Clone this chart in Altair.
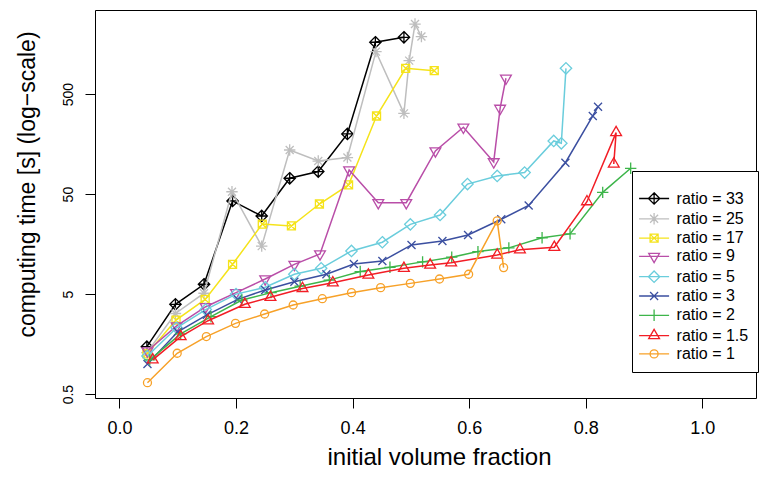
import altair as alt
import pandas as pd

# ---------------- data ----------------
labels = ["ratio = 33", "ratio = 25", "ratio = 17", "ratio = 9", "ratio = 5",
          "ratio = 3", "ratio = 2", "ratio = 1.5", "ratio = 1"]
colors = ["#000000", "#BEBEBE", "#F5E31A", "#B94EA8", "#6ACDDC",
          "#3B4FA0", "#3DB54A", "#F21D25", "#F7A128"]

x33 = [0.047, 0.096, 0.145, 0.194, 0.244, 0.292, 0.341, 0.391, 0.439, 0.488]
y33 = [1.49, 3.95, 6.27, 42.7, 30.2, 72, 84, 200, 1650, 1850]

x25 = [0.047, 0.096, 0.145, 0.193, 0.244, 0.292, 0.341, 0.391, 0.440, 0.488, 0.497, 0.507, 0.518]
y25 = [1.3, 3.2, 5.1, 52.8, 15.1, 138, 107, 116, 1330, 321, 1080, 2510, 1880]

x17 = [0.047, 0.097, 0.147, 0.194, 0.245, 0.295, 0.343, 0.393, 0.441, 0.491, 0.540]
y17 = [1.26, 2.75, 4.43, 9.93, 25.1, 24, 39.8, 61.7, 302, 905, 857]

x9 = [0.048, 0.098, 0.148, 0.200, 0.250, 0.300, 0.344, 0.394, 0.444, 0.492, 0.542, 0.590, 0.642, 0.653, 0.663]
y9 = [1.35, 2.4, 3.74, 5.17, 7.08, 9.9, 12.6, 87, 41, 41, 135, 233, 105, 360, 720]

x5 = [0.048, 0.098, 0.148, 0.200, 0.250, 0.300, 0.346, 0.398, 0.451, 0.499, 0.550, 0.597, 0.648, 0.695, 0.745, 0.758, 0.766]
y5 = [1.2, 2.3, 3.5, 5.0, 5.85, 7.9, 9.05, 13.5, 16.5, 24.9, 30.9, 63, 76, 82, 170, 161, 905]

x3 = [0.048, 0.100, 0.150, 0.203, 0.250, 0.300, 0.355, 0.402, 0.451, 0.501, 0.554, 0.598, 0.655, 0.702, 0.765, 0.812, 0.821]
y3 = [1.0, 2.1, 3.1, 4.43, 5.5, 6.65, 7.9, 10, 10.7, 15.5, 17, 19.5, 28, 38.5, 103, 302, 374]

x2 = [0.052, 0.105, 0.157, 0.210, 0.260, 0.310, 0.360, 0.413, 0.464, 0.520, 0.570, 0.615, 0.668, 0.725, 0.773, 0.829, 0.877]
y2 = [1.1, 2.0, 2.97, 4.36, 5.17, 6.0, 6.9, 8.4, 9.27, 10.5, 11.7, 13.3, 14.5, 18.3, 20, 52, 90.6]

x15 = [0.057, 0.105, 0.152, 0.215, 0.259, 0.314, 0.366, 0.427, 0.488, 0.533, 0.569, 0.648, 0.687, 0.746, 0.802, 0.852, 0.848]
y15 = [1.1, 1.88, 2.71, 3.95, 4.64, 5.7, 6.5, 7.76, 9.05, 9.77, 10.3, 12.3, 13.9, 14.7, 42, 206, 100]

x1 = [0.048, 0.099, 0.149, 0.199, 0.249, 0.298, 0.348, 0.398, 0.448, 0.499, 0.549, 0.599, 0.648, 0.659]
y1 = [0.65, 1.28, 1.88, 2.55, 3.16, 3.89, 4.5, 5.17, 5.8, 6.4, 7.08, 7.9, 27, 9.2]

x_ticks = [0.0, 0.2, 0.4, 0.6, 0.8, 1.0]
y_ticks = [0.5, 5, 50, 500]

series_x = [x33, x25, x17, x9, x5, x3, x2, x15, x1]
series_y = [y33, y25, y17, y9, y5, y3, y2, y15, y1]

# R plotting symbols (pch 9, 8, 7, 6, 5, 4, 3, 2, 1) as SVG paths, in pixels (size=4)
markers = [
    "M0,-5.7L5.7,0L0,5.7L-5.7,0Z M-5.7,0H5.7M0,-5.7V5.7",          # diamond plus
    "M-5.7,0H5.7M0,-5.7V5.7M-4,-4L4,4M-4,4L4,-4",                  # asterisk
    "M-4,-4H4V4H-4Z M-4,-4L4,4M-4,4L4,-4",                         # square with x
    "M0,6.2L5.4,-3.1L-5.4,-3.1Z",                                  # down triangle
    "M0,-5.7L5.7,0L0,5.7L-5.7,0Z",                                 # diamond
    "M-4,-4L4,4M-4,4L4,-4",                                        # x
    "M-5.7,0H5.7M0,-5.7V5.7",                                      # plus
    "M0,-6.2L5.4,3.1L-5.4,3.1Z",                                   # up triangle
    "M-4,0A4,4 0 1,0 4,0A4,4 0 1,0 -4,0Z",                         # circle
]
legend_symbols = ["M-15,0H15 " + m for m in markers]

rows = []
for lab, xs, ys in zip(labels, series_x, series_y):
    for i, (xv, yv) in enumerate(zip(xs, ys)):
        rows.append({"ratio": lab, "x": xv, "y": yv, "i": i})
df = pd.DataFrame(rows)

FONT = "Liberation Sans"

xscale = alt.Scale(domain=[-0.042, 1.092], nice=False, zero=False)
yscale = alt.Scale(type="log", domain=[0.457, 3467], nice=False)

xaxis = alt.Axis(values=x_ticks, format=".1f", title="initial volume fraction",
                 grid=False, domain=False, tickColor="black", tickSize=10, tickWidth=1,
                 labelFont=FONT, labelFontSize=18, labelColor="black",
                 labelBaseline="alphabetic", labelPadding=25, labelFlush=False,
                 titleFont=FONT, titleFontSize=24, titleFontWeight="normal", titleColor="black",
                 titleX=344, titleY=66, titleBaseline="alphabetic", titleAlign="center",
                 titleAnchor="start")
yaxis = alt.Axis(values=y_ticks, format="~g", title="computing time [s] (log\u2212scale)",
                 grid=False, domain=False, tickColor="black", tickSize=10, tickWidth=1,
                 labelFont=FONT, labelFontSize=14, labelColor="black",
                 labelAngle=270, labelAlign="center", labelBaseline="alphabetic",
                 labelPadding=13, labelFlush=False,
                 titleFont=FONT, titleFontSize=23, titleFontWeight="normal", titleColor="black",
                 titleX=-61, titleY=174, titleAngle=270, titleBaseline="alphabetic",
                 titleAlign="center", titleAnchor="start")

base = alt.Chart(df)
X = alt.X("x:Q", scale=xscale, axis=xaxis)
Y = alt.Y("y:Q", scale=yscale, axis=yaxis)

layers = []
for lab, col, shp in zip(labels, colors, markers):
    sub = base.transform_filter(alt.datum.ratio == lab)
    layers.append(sub.mark_line(color=col, strokeWidth=1.5).encode(x=X, y=Y, order="i:Q"))
    layers.append(sub.mark_point(shape=shp, size=4, color=col, strokeWidth=1.3,
                                 filled=False, opacity=1).encode(x=X, y=Y))

leg = alt.Legend(title=" ", titleFontSize=1, titlePadding=9,
                 orient="none", legendX=537, legendY=161, padding=9.5,
                 strokeColor="black", fillColor="white", cornerRadius=0,
                 labelFont=FONT, labelFontSize=16, labelColor="black",
                 symbolSize=4, symbolStrokeWidth=1.3, symbolOffset=4.6, labelOffset=14.5,
                 rowPadding=2.3, labelLimit=200)

legend_layer = base.transform_filter("false").mark_point(
    filled=False, size=4, strokeWidth=1.3, opacity=1).encode(
    x=X, y=Y,
    color=alt.Color("ratio:N", scale=alt.Scale(domain=labels, range=colors), legend=leg),
    shape=alt.Shape("ratio:N", scale=alt.Scale(domain=labels, range=legend_symbols), legend=leg),
)
layers.append(legend_layer)

chart = alt.layer(*layers).properties(
    width=661, height=388,
    autosize=alt.AutoSizeParams(type="none"),
    padding={"left": 87, "top": 2, "right": 12, "bottom": 72},
    background="white",
).configure_view(stroke="black", strokeWidth=1)

chart.save("out.html", embed_options={"renderer": "svg", "actions": False})
